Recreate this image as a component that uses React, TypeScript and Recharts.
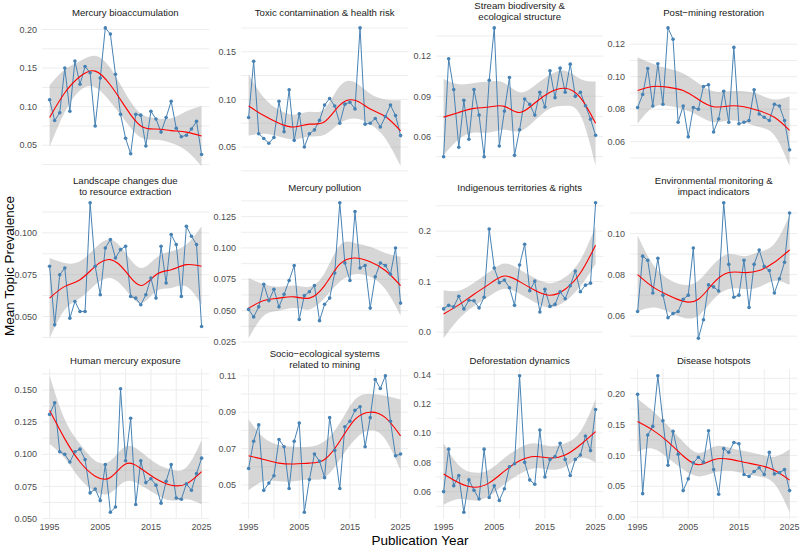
import React from "react";
import { ComposedChart, Line, Area, XAxis, YAxis, CartesianGrid } from "recharts";

// publication years shown on every panel
const YEARS = [
  1995, 1996, 1997, 1998, 1999, 2000, 2001, 2002, 2003, 2004, 2005, 2006, 2007, 2008, 2009, 2010,
  2011, 2012, 2013, 2014, 2015, 2016, 2017, 2018, 2019, 2020, 2021, 2022, 2023, 2024, 2025,
];
// years at which the smoothed trend and its confidence band are given
const FIT_YEARS = [1995, 1998, 2001, 2004, 2007, 2010, 2013, 2016, 2019, 2022, 2025];
const X_TICKS = [1995, 2000, 2005, 2010, 2015, 2020, 2025];
const X_LABELS = [1995, 2005, 2015, 2025];

// Mercury bioaccumulation
const hgBioacc = [0.109, 0.082, 0.092, 0.150, 0.094, 0.159, 0.129, 0.152, 0.144, 0.075, 0.137, 0.202, 0.194, 0.142, 0.090, 0.059, 0.039, 0.090, 0.089, 0.049, 0.094, 0.084, 0.067, 0.086, 0.107, 0.072, 0.061, 0.063, 0.071, 0.081, 0.038];
const hgBioaccFit = [0.086, 0.118, 0.139, 0.146, 0.128, 0.099, 0.075, 0.071, 0.069, 0.067, 0.062];
const hgBioaccLo = [0.048, 0.093, 0.121, 0.125, 0.106, 0.081, 0.060, 0.057, 0.053, 0.043, 0.023];
const hgBioaccHi = [0.128, 0.148, 0.159, 0.166, 0.150, 0.117, 0.091, 0.085, 0.085, 0.094, 0.101];

// Toxic contamination & health risk
const toxic = [0.081, 0.140, 0.064, 0.059, 0.054, 0.060, 0.098, 0.066, 0.110, 0.057, 0.085, 0.050, 0.064, 0.068, 0.078, 0.094, 0.101, 0.093, 0.075, 0.095, 0.097, 0.090, 0.175, 0.074, 0.075, 0.080, 0.071, 0.082, 0.094, 0.083, 0.062];
const toxicFit = [0.093, 0.083, 0.075, 0.071, 0.074, 0.0765, 0.094, 0.099, 0.090, 0.082, 0.067];
const toxicLo = [0.062, 0.064, 0.061, 0.058, 0.061, 0.063, 0.075, 0.080, 0.074, 0.059, 0.030];
const toxicHi = [0.126, 0.102, 0.089, 0.084, 0.087, 0.090, 0.114, 0.118, 0.106, 0.100, 0.099];

// Stream biodiversity & ecological structure
const stream = [0.045, 0.118, 0.095, 0.052, 0.087, 0.058, 0.095, 0.076, 0.045, 0.102, 0.141, 0.053, 0.079, 0.104, 0.046, 0.065, 0.088, 0.084, 0.076, 0.093, 0.082, 0.109, 0.089, 0.111, 0.093, 0.114, 0.090, 0.093, 0.083, 0.073, 0.061];
const streamFit = [0.0745, 0.078, 0.081, 0.082, 0.0825, 0.078, 0.085, 0.093, 0.096, 0.089, 0.070];
const streamLo = [0.046, 0.058, 0.063, 0.063, 0.065, 0.064, 0.072, 0.081, 0.083, 0.076, 0.038];
const streamHi = [0.103, 0.099, 0.100, 0.101, 0.100, 0.093, 0.098, 0.106, 0.109, 0.103, 0.101];

// Post-mining restoration
const restoration = [0.081, 0.089, 0.105, 0.082, 0.108, 0.083, 0.130, 0.123, 0.072, 0.082, 0.063, 0.081, 0.080, 0.094, 0.095, 0.066, 0.074, 0.091, 0.072, 0.118, 0.071, 0.072, 0.073, 0.092, 0.077, 0.075, 0.073, 0.083, 0.082, 0.073, 0.055];
const restorationFit = [0.0915, 0.094, 0.0935, 0.0915, 0.086, 0.0815, 0.082, 0.0815, 0.079, 0.075, 0.067];
const restorationLo = [0.071, 0.081, 0.082, 0.080, 0.076, 0.072, 0.073, 0.072, 0.069, 0.064, 0.045];
const restorationHi = [0.112, 0.108, 0.105, 0.102, 0.096, 0.091, 0.091, 0.091, 0.089, 0.086, 0.088];

// Landscape changes due to resource extraction
const landscape = [0.080, 0.045, 0.075, 0.079, 0.049, 0.059, 0.053, 0.053, 0.118, 0.080, 0.063, 0.091, 0.096, 0.085, 0.090, 0.092, 0.062, 0.061, 0.057, 0.063, 0.073, 0.061, 0.092, 0.070, 0.099, 0.093, 0.062, 0.104, 0.098, 0.093, 0.044];
const landscapeFit = [0.061, 0.068, 0.072, 0.080, 0.084, 0.077, 0.0685, 0.075, 0.078, 0.081, 0.080];
const landscapeLo = [0.037, 0.054, 0.061, 0.069, 0.073, 0.066, 0.058, 0.065, 0.067, 0.068, 0.057];
const landscapeHi = [0.085, 0.082, 0.083, 0.091, 0.096, 0.088, 0.079, 0.085, 0.089, 0.093, 0.104];

// Mercury pollution
const hgPollution = [0.051, 0.045, 0.053, 0.071, 0.058, 0.067, 0.053, 0.063, 0.074, 0.086, 0.043, 0.062, 0.065, 0.070, 0.042, 0.055, 0.060, 0.080, 0.136, 0.088, 0.074, 0.129, 0.084, 0.086, 0.052, 0.077, 0.088, 0.086, 0.079, 0.100, 0.056];
const hgPollutionFit = [0.052, 0.058, 0.060, 0.061, 0.060, 0.070, 0.087, 0.092, 0.089, 0.082, 0.070];
const hgPollutionLo = [0.028, 0.046, 0.050, 0.052, 0.051, 0.060, 0.073, 0.079, 0.077, 0.067, 0.046];
const hgPollutionHi = [0.076, 0.071, 0.069, 0.070, 0.069, 0.080, 0.102, 0.104, 0.101, 0.096, 0.093];

// Indigenous territories & rights
const indigenous = [0.046, 0.053, 0.050, 0.071, 0.046, 0.063, 0.062, 0.048, 0.069, 0.204, 0.127, 0.098, 0.103, 0.088, 0.053, 0.133, 0.174, 0.082, 0.101, 0.040, 0.085, 0.051, 0.055, 0.080, 0.066, 0.092, 0.121, 0.080, 0.093, 0.097, 0.256];
const indigenousFit = [0.036, 0.054, 0.075, 0.095, 0.111, 0.100, 0.083, 0.073, 0.085, 0.117, 0.172];
const indigenousLo = [-0.012, 0.026, 0.052, 0.071, 0.086, 0.076, 0.059, 0.049, 0.061, 0.091, 0.135];
const indigenousHi = [0.083, 0.082, 0.098, 0.119, 0.136, 0.124, 0.107, 0.097, 0.109, 0.143, 0.209];

// Environmental monitoring & impact indicators
const monitoring = [0.062, 0.089, 0.087, 0.071, 0.088, 0.070, 0.059, 0.061, 0.062, 0.068, 0.070, 0.093, 0.049, 0.058, 0.075, 0.074, 0.072, 0.115, 0.085, 0.069, 0.070, 0.087, 0.064, 0.085, 0.092, 0.084, 0.082, 0.071, 0.078, 0.086, 0.110];
const monitoringFit = [0.080, 0.074, 0.070, 0.067, 0.068, 0.076, 0.081, 0.081, 0.082, 0.086, 0.092];
const monitoringLo = [0.062, 0.064, 0.062, 0.059, 0.060, 0.068, 0.073, 0.073, 0.074, 0.077, 0.075];
const monitoringHi = [0.099, 0.085, 0.078, 0.075, 0.077, 0.085, 0.090, 0.089, 0.091, 0.095, 0.109];

// Human mercury exposure
const exposure = [0.131, 0.140, 0.102, 0.100, 0.094, 0.102, 0.104, 0.096, 0.070, 0.073, 0.064, 0.092, 0.055, 0.059, 0.151, 0.095, 0.128, 0.061, 0.095, 0.078, 0.081, 0.076, 0.062, 0.079, 0.092, 0.066, 0.065, 0.077, 0.072, 0.085, 0.097];
const exposureFit = [0.134, 0.112, 0.094, 0.083, 0.082, 0.0925, 0.089, 0.081, 0.076, 0.077, 0.0865];
const exposureLo = [0.108, 0.097, 0.081, 0.071, 0.070, 0.079, 0.076, 0.069, 0.064, 0.065, 0.061];
const exposureHi = [0.161, 0.127, 0.108, 0.095, 0.095, 0.106, 0.102, 0.093, 0.088, 0.090, 0.111];

// Socio-ecological systems related to mining
const socio = [0.059, 0.074, 0.083, 0.047, 0.051, 0.055, 0.075, 0.071, 0.048, 0.074, 0.084, 0.035, 0.053, 0.067, 0.063, 0.054, 0.087, 0.069, 0.048, 0.082, 0.085, 0.091, 0.093, 0.071, 0.087, 0.108, 0.103, 0.110, 0.085, 0.066, 0.067];
const socioFit = [0.066, 0.064, 0.062, 0.0615, 0.062, 0.064, 0.074, 0.086, 0.090, 0.087, 0.077];
const socioLo = [0.047, 0.052, 0.052, 0.052, 0.053, 0.054, 0.064, 0.075, 0.080, 0.075, 0.058];
const socioHi = [0.086, 0.076, 0.072, 0.071, 0.071, 0.074, 0.084, 0.097, 0.100, 0.099, 0.097];

// Deforestation dynamics
const deforestation = [0.060, 0.089, 0.064, 0.071, 0.046, 0.068, 0.061, 0.055, 0.089, 0.056, 0.064, 0.054, 0.062, 0.077, 0.079, 0.139, 0.080, 0.068, 0.065, 0.102, 0.070, 0.082, 0.084, 0.093, 0.082, 0.071, 0.082, 0.085, 0.098, 0.088, 0.116];
const deforestationFit = [0.072, 0.066, 0.063, 0.066, 0.074, 0.081, 0.084, 0.083, 0.085, 0.092, 0.101];
const deforestationLo = [0.051, 0.055, 0.054, 0.057, 0.065, 0.072, 0.076, 0.075, 0.077, 0.083, 0.080];
const deforestationHi = [0.093, 0.078, 0.073, 0.075, 0.083, 0.090, 0.093, 0.091, 0.093, 0.101, 0.123];

// Disease hotspots
const disease = [0.199, 0.038, 0.133, 0.147, 0.229, 0.156, 0.084, 0.139, 0.102, 0.043, 0.062, 0.088, 0.097, 0.089, 0.140, 0.077, 0.037, 0.111, 0.105, 0.121, 0.119, 0.069, 0.066, 0.074, 0.080, 0.069, 0.105, 0.070, 0.072, 0.077, 0.043];
const diseaseFit = [0.155, 0.141, 0.122, 0.099, 0.085, 0.093, 0.094, 0.089, 0.084, 0.076, 0.060];
const diseaseLo = [0.106, 0.111, 0.096, 0.077, 0.066, 0.072, 0.075, 0.071, 0.066, 0.054, 0.008];
const diseaseHi = [0.192, 0.172, 0.148, 0.122, 0.104, 0.114, 0.113, 0.107, 0.102, 0.098, 0.110];

interface PanelDef {
  title: string[];
  values: number[];
  fit: number[];
  lo: number[];
  hi: number[];
  yLabels: number[];
  yMinor: number[];
  digits: number;
}

const PANELS: PanelDef[] = [
  { title: ["Mercury bioaccumulation"], values: hgBioacc, fit: hgBioaccFit, lo: hgBioaccLo, hi: hgBioaccHi, yLabels: [0.05, 0.1, 0.15, 0.2], yMinor: [0.025, 0.075, 0.125, 0.175], digits: 2 },
  { title: ["Toxic contamination & health risk"], values: toxic, fit: toxicFit, lo: toxicLo, hi: toxicHi, yLabels: [0.05, 0.1, 0.15], yMinor: [0.025, 0.075, 0.125, 0.175], digits: 2 },
  { title: ["Stream biodiversity &", "ecological structure"], values: stream, fit: streamFit, lo: streamLo, hi: streamHi, yLabels: [0.06, 0.09, 0.12], yMinor: [0.045, 0.075, 0.105, 0.135], digits: 2 },
  { title: ["Post\u2212mining restoration"], values: restoration, fit: restorationFit, lo: restorationLo, hi: restorationHi, yLabels: [0.06, 0.08, 0.1, 0.12], yMinor: [0.05, 0.07, 0.09, 0.11], digits: 2 },
  { title: ["Landscape changes due", "to resource extraction"], values: landscape, fit: landscapeFit, lo: landscapeLo, hi: landscapeHi, yLabels: [0.05, 0.075, 0.1], yMinor: [0.0375, 0.0625, 0.0875, 0.1125], digits: 3 },
  { title: ["Mercury pollution"], values: hgPollution, fit: hgPollutionFit, lo: hgPollutionLo, hi: hgPollutionHi, yLabels: [0.025, 0.05, 0.075, 0.1, 0.125], yMinor: [0.0375, 0.0625, 0.0875, 0.1125, 0.1375], digits: 3 },
  { title: ["Indigenous territories & rights"], values: indigenous, fit: indigenousFit, lo: indigenousLo, hi: indigenousHi, yLabels: [0, 0.1, 0.2], yMinor: [0.05, 0.15, 0.25], digits: 1 },
  { title: ["Environmental monitoring &", "impact indicators"], values: monitoring, fit: monitoringFit, lo: monitoringLo, hi: monitoringHi, yLabels: [0.06, 0.08, 0.1], yMinor: [0.05, 0.07, 0.09, 0.11], digits: 2 },
  { title: ["Human mercury exposure"], values: exposure, fit: exposureFit, lo: exposureLo, hi: exposureHi, yLabels: [0.05, 0.075, 0.1, 0.125, 0.15], yMinor: [0.0625, 0.0875, 0.1125, 0.1375, 0.1625], digits: 3 },
  { title: ["Socio\u2212ecological systems", "related to mining"], values: socio, fit: socioFit, lo: socioLo, hi: socioHi, yLabels: [0.05, 0.07, 0.09, 0.11], yMinor: [0.04, 0.06, 0.08, 0.1], digits: 2 },
  { title: ["Deforestation dynamics"], values: deforestation, fit: deforestationFit, lo: deforestationLo, hi: deforestationHi, yLabels: [0.06, 0.08, 0.1, 0.12, 0.14], yMinor: [0.05, 0.07, 0.09, 0.11, 0.13], digits: 2 },
  { title: ["Disease hotspots"], values: disease, fit: diseaseFit, lo: diseaseLo, hi: diseaseHi, yLabels: [0, 0.05, 0.1, 0.15, 0.2], yMinor: [0.025, 0.075, 0.125, 0.175, 0.225], digits: 2 },
];

// facet grid geometry (plot panel boxes)
const COL_LEFT = [41.7, 241.1, 436.1, 630.1];
const PANEL_W = 167.2;
const ROW_TOP = [21, 196, 369];
const ROW_H = [152, 149, 150];
const AXIS_W = 34;
const X_AXIS_H = 18;
// room around each plot box so edge tick labels are not clipped
const PAD = { top: 7, right: 12, bottom: 7, left: 0 };

const FONT = '"Liberation Sans", Arial, Helvetica, sans-serif';
const TICK_STYLE = { fontSize: 9, fill: "#4d4d4d" };

const Panel = ({ p, col, row }: { p: PanelDef; col: number; row: number }) => {
  const bottom = row === 2;
  const rows = YEARS.map((year, i) => {
    const k = FIT_YEARS.indexOf(year);
    return {
      year,
      value: p.values[i],
      fit: k >= 0 ? p.fit[k] : null,
      band: k >= 0 ? [p.lo[k], p.hi[k]] : null,
    };
  });

  // ggplot-style 5% expansion around everything drawn
  const all = [...p.values, ...p.lo, ...p.hi];
  const min = Math.min(...all);
  const max = Math.max(...all);
  const pad = (max - min) * 0.05;
  const domain = [min - pad, max + pad];
  const yTicks = [...p.yLabels, ...p.yMinor]
    .filter((v) => v >= domain[0] && v <= domain[1])
    .sort((a, b) => a - b);

  const titleTop = p.title.length > 1 ? ROW_TOP[row] - 21.5 : ROW_TOP[row] - 14.3;

  return (
    <>
      <div
        style={{
          position: "absolute",
          left: COL_LEFT[col],
          width: PANEL_W,
          top: titleTop,
          textAlign: "center",
          fontSize: 9.6,
          lineHeight: "11px",
          color: "#1a1a1a",
          whiteSpace: "nowrap",
        }}
      >
        {p.title.map((t) => (
          <div key={t}>{t}</div>
        ))}
      </div>
      <div style={{ position: "absolute", left: COL_LEFT[col] - AXIS_W, top: ROW_TOP[row] - PAD.top }}>
        <ComposedChart
          width={PANEL_W + AXIS_W + PAD.right}
          height={ROW_H[row] + PAD.top + PAD.bottom + (bottom ? X_AXIS_H : 0)}
          data={rows}
          margin={PAD}
        >
          <CartesianGrid stroke="#ebebeb" strokeWidth={0.9} horizontalValues={yTicks} verticalValues={X_TICKS} />
          <XAxis
            dataKey="year"
            type="number"
            domain={[1993.5, 2026.5]}
            ticks={X_TICKS}
            interval={0}
            allowDataOverflow
            height={bottom ? X_AXIS_H : 0}
            axisLine={false}
            tickLine={false}
            tickSize={0}
            tickMargin={5}
            tick={bottom ? TICK_STYLE : false}
            tickFormatter={(v: number) => (X_LABELS.includes(v) ? String(v) : "")}
          />
          <YAxis
            type="number"
            domain={domain}
            ticks={yTicks}
            interval={0}
            allowDataOverflow
            width={AXIS_W}
            axisLine={false}
            tickLine={false}
            tickSize={0}
            tickMargin={5}
            tick={TICK_STYLE}
            tickFormatter={(v: number) => (p.yLabels.includes(v) ? v.toFixed(p.digits) : "")}
          />
          <Area
            dataKey="band"
            type="natural"
            connectNulls
            stroke="none"
            fill="#999999"
            fillOpacity={0.4}
            activeDot={false}
            isAnimationActive={false}
          />
          <Line
            dataKey="value"
            type="linear"
            stroke="#4682b4"
            strokeWidth={1}
            dot={{ r: 1.8, fill: "#4682b4", stroke: "#4682b4", strokeWidth: 0 }}
            activeDot={false}
            isAnimationActive={false}
          />
          <Line
            dataKey="fit"
            type="natural"
            connectNulls
            stroke="#ff0000"
            strokeWidth={1.1}
            dot={false}
            activeDot={false}
            isAnimationActive={false}
          />
        </ComposedChart>
      </div>
    </>
  );
};

export default function App() {
  return (
    <div
      style={{
        position: "absolute",
        left: 0,
        top: 0,
        width: 800,
        height: 548,
        background: "#ffffff",
        fontFamily: FONT,
        overflow: "hidden",
      }}
    >
      {PANELS.map((p, i) => (
        <Panel key={p.title.join(" ")} p={p} col={i % 4} row={Math.floor(i / 4)} />
      ))}
      <div
        style={{
          position: "absolute",
          left: 9,
          top: 266,
          transform: "translate(-50%, -50%) rotate(-90deg)",
          fontSize: 13.5,
          color: "#000000",
          whiteSpace: "nowrap",
        }}
      >
        Mean Topic Prevalence
      </div>
      <div
        style={{
          position: "absolute",
          left: 420,
          top: 540,
          transform: "translate(-50%, -50%)",
          fontSize: 13.5,
          color: "#000000",
          whiteSpace: "nowrap",
        }}
      >
        Publication Year
      </div>
    </div>
  );
}
